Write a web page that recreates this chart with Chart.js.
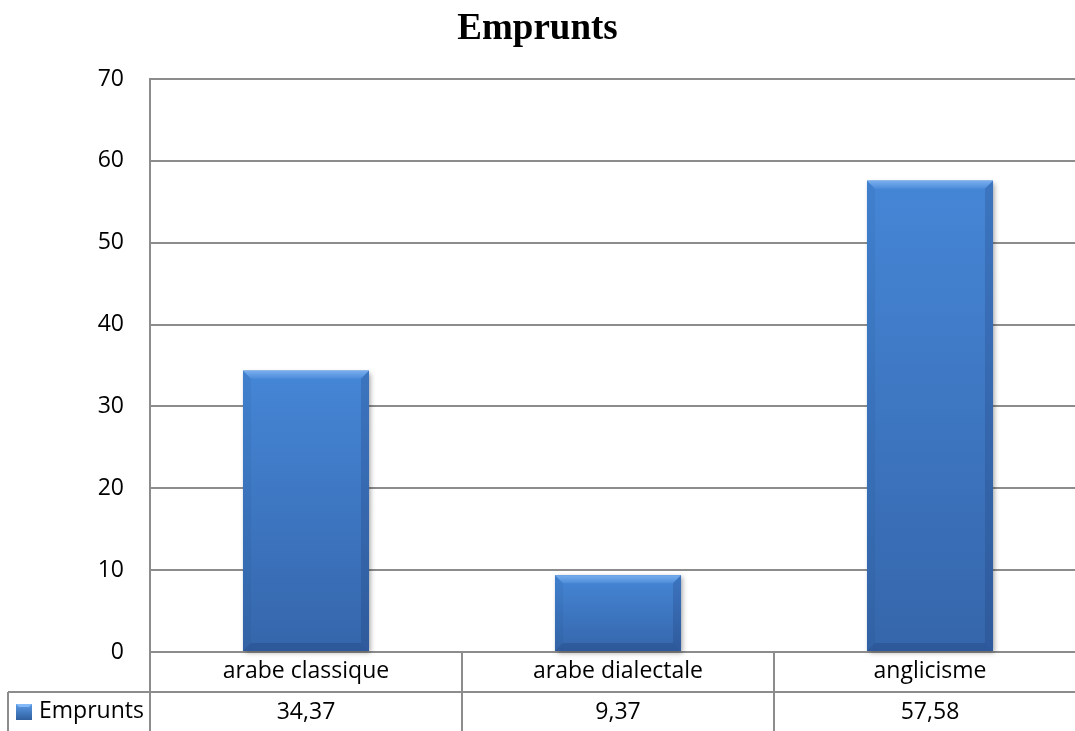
<!DOCTYPE html>
<html>
<head>
<meta charset="utf-8">
<script src="https://cdn.jsdelivr.net/npm/chart.js@4.4.1/dist/chart.umd.min.js"></script>
<style>
  html, body { margin: 0; padding: 0; background: #fff; overflow: hidden; }
  canvas { display: block; }
</style>
</head>
<body>
<canvas id="myChart" width="1090" height="731"></canvas>
<script>
// data
const categories = ['arabe classique', 'arabe dialectale', 'anglicisme'];
const seriesName = 'Emprunts';
const values = [34.37, 9.37, 57.58];
const yTicks = [0, 10, 20, 30, 40, 50, 60, 70];
const titleText = 'Emprunts';

const VIEW_W = 1075;      // visible window width (plot runs past it)
const GRID = '#8c8c8c';
const FONT = '"Open Sans", "Noto Sans", sans-serif';

// bevelled bar look, painted over each bar the library placed
function paintBar(ctx, l, r, t, b) {
  const bv = 8;
  const g = ctx.createLinearGradient(0, t, 0, b);
  g.addColorStop(0, '#4586d6');
  g.addColorStop(1, '#3566ab');
  ctx.fillStyle = g;
  ctx.fillRect(l, t, r - l, b - t);

  const poly = (pts, fill) => {
    ctx.beginPath();
    ctx.moveTo(pts[0][0], pts[0][1]);
    for (let i = 1; i < pts.length; i++) ctx.lineTo(pts[i][0], pts[i][1]);
    ctx.closePath();
    ctx.fillStyle = fill;
    ctx.fill();
  };
  const tg = ctx.createLinearGradient(0, t, 0, t + bv);
  tg.addColorStop(0, '#78aeee');
  tg.addColorStop(1, '#4d8cd9');
  poly([[l, t], [r, t], [r - bv, t + bv], [l + bv, t + bv]], tg);
  poly([[l, t], [l + bv, t + bv], [l + bv, b - bv], [l, b]], 'rgba(20,50,100,0.07)');
  poly([[r, t], [r, b], [r - bv, b - bv], [r - bv, t + bv]], 'rgba(20,40,90,0.18)');
  poly([[l, b], [l + bv, b - bv], [r - bv, b - bv], [r, b]], 'rgba(20,40,90,0.22)');
}

const barLook = {
  id: 'barLook',
  beforeDatasetsDraw(chart) {
    const ctx = chart.ctx;
    ctx.save();
    ctx.shadowColor = 'rgba(0,0,0,0.35)';
    ctx.shadowBlur = 5;
    ctx.shadowOffsetX = 2;
    ctx.shadowOffsetY = 2;
  },
  afterDatasetsDraw(chart) {
    const ctx = chart.ctx;
    ctx.restore();
    chart.getDatasetMeta(0).data.forEach((bar) => {
      const l = bar.x - bar.width / 2;
      const r = bar.x + bar.width / 2;
      paintBar(ctx, l, r, bar.y, bar.base);
    });
  }
};

function paintKey(ctx, x, y, s) {
  const g = ctx.createLinearGradient(0, y, 0, y + s);
  g.addColorStop(0, '#5b9be6');
  g.addColorStop(1, '#2f5f9f');
  ctx.fillStyle = g;
  ctx.fillRect(x, y, s, s);
  ctx.fillStyle = 'rgba(150,200,255,0.7)';
  ctx.beginPath();
  ctx.moveTo(x, y); ctx.lineTo(x + s, y); ctx.lineTo(x + s - 3, y + 3); ctx.lineTo(x + 3, y + 3);
  ctx.closePath();
  ctx.fill();
}

// title + data table under the plot, laid out from the x scale
const tableAndTitle = {
  id: 'tableAndTitle',
  afterDraw(chart) {
    const ctx = chart.ctx;
    const area = chart.chartArea;
    const xs = chart.scales.x;
    const H = chart.height;
    const W = chart.width;
    const catW = (area.right - area.left) / categories.length;
    const rowY = area.bottom + 40;

    ctx.save();
    ctx.strokeStyle = GRID;
    ctx.lineWidth = 2;
    ctx.beginPath();
    // y axis carried down through the table
    ctx.moveTo(area.left, area.bottom);
    ctx.lineTo(area.left, H);
    for (let i = 1; i < categories.length; i++) {
      const x = area.left + i * catW;
      ctx.moveTo(x, area.bottom);
      ctx.lineTo(x, H);
    }
    ctx.moveTo(8, rowY);
    ctx.lineTo(W, rowY);
    ctx.moveTo(8, rowY);
    ctx.lineTo(8, H);
    ctx.stroke();

    ctx.fillStyle = '#000';
    ctx.font = '23px ' + FONT;
    ctx.textAlign = 'center';
    ctx.textBaseline = 'middle';
    categories.forEach((c, i) => {
      const cx = xs.getPixelForValue(i);
      ctx.fillText(c, cx, area.bottom + 19);
      ctx.fillText(values[i].toFixed(2).replace('.', ','), cx, rowY + 20);
    });

    // legend key
    paintKey(ctx, 16, rowY + 12, 16);
    ctx.fillStyle = '#000';
    ctx.textAlign = 'left';
    ctx.fillText(seriesName, 39, rowY + 19);

    // title
    ctx.font = 'bold 37px "Liberation Serif", "Times New Roman", serif';
    ctx.textAlign = 'center';
    ctx.textBaseline = 'alphabetic';
    ctx.fillText(titleText, VIEW_W / 2, 39);
    ctx.restore();
  }
};

new Chart(document.getElementById('myChart'), {
  type: 'bar',
  data: {
    labels: categories,
    datasets: [{
      label: seriesName,
      data: values,
      backgroundColor: '#3d76c2',
      borderWidth: 0,
      categoryPercentage: 1,
      barPercentage: 0.404,
      clip: false
    }]
  },
  options: {
    responsive: false,
    devicePixelRatio: 1,
    animation: false,
    layout: { padding: { top: 79, right: 4, bottom: 0, left: 0 } },
    plugins: {
      legend: { display: false },
      title: { display: false },
      tooltip: { enabled: false }
    },
    scales: {
      x: {
        grid: { display: false },
        ticks: { display: false },
        border: { display: true, color: GRID, width: 2 },
        afterFit: (s) => { s.height = 79; }
      },
      y: {
        min: yTicks[0],
        max: yTicks[yTicks.length - 1],
        afterBuildTicks: (s) => { s.ticks = yTicks.map((v) => ({ value: v })); },
        ticks: {
          padding: 26,
          color: '#000',
          font: { family: FONT, size: 23 }
        },
        grid: { color: GRID, lineWidth: 2, drawTicks: false },
        border: { display: true, color: GRID, width: 2 },
        afterFit: (s) => { s.width = 150; }
      }
    }
  },
  plugins: [barLook, tableAndTitle]
});
</script>
</body>
</html>
